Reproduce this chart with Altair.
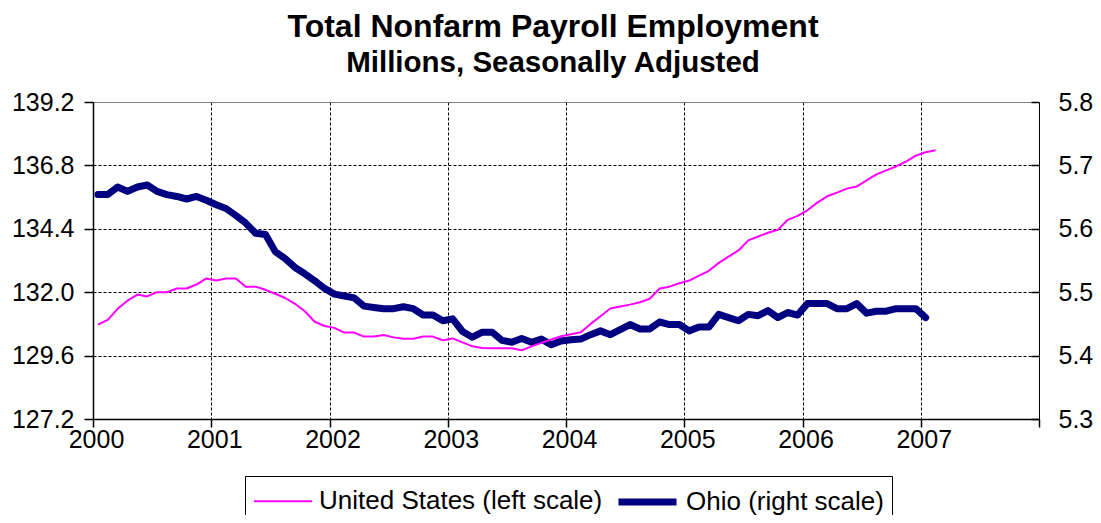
import altair as alt
import pandas as pd

# ---- data (monthly, Jan 2000 onward) ----
us_values = [
    130.77, 130.95, 131.37, 131.68, 131.91, 131.84, 132.00, 132.00, 132.14, 132.14, 132.29, 132.52,
    132.44, 132.52, 132.52, 132.21, 132.21, 132.09, 131.94, 131.78, 131.56, 131.28, 130.88, 130.72,
    130.65, 130.47, 130.47, 130.32, 130.32, 130.38, 130.29, 130.24, 130.24, 130.32, 130.32, 130.18,
    130.25, 130.10, 129.95, 129.89, 129.88, 129.88, 129.88, 129.80, 129.95, 130.08, 130.21, 130.33,
    130.41, 130.48, 130.80, 131.09, 131.38, 131.46, 131.53, 131.62, 131.75, 132.14, 132.21, 132.34,
    132.44, 132.63, 132.81, 133.11, 133.35, 133.58, 133.96, 134.11, 134.25, 134.36, 134.74, 134.89,
    135.10, 135.39, 135.63, 135.77, 135.92, 136.00, 136.23, 136.46, 136.61, 136.76, 136.94, 137.17,
    137.30, 137.37,
]
ohio_values = [
    5.654, 5.654, 5.666, 5.659, 5.666, 5.669, 5.659, 5.654, 5.651, 5.647, 5.651, 5.645,
    5.638, 5.632, 5.621, 5.609, 5.593, 5.591, 5.564, 5.553, 5.539, 5.529, 5.518, 5.506,
    5.497, 5.494, 5.491, 5.478, 5.476, 5.474, 5.474, 5.477, 5.474, 5.464, 5.464, 5.455,
    5.458, 5.438, 5.429, 5.437, 5.437, 5.424, 5.421, 5.427, 5.421, 5.426, 5.417, 5.423,
    5.425, 5.426, 5.433, 5.439, 5.433, 5.441, 5.449, 5.442, 5.442, 5.453, 5.449, 5.449,
    5.439, 5.445, 5.445, 5.465, 5.460, 5.455, 5.465, 5.463, 5.471, 5.460, 5.468, 5.464,
    5.482, 5.482, 5.482, 5.474, 5.474, 5.482, 5.467, 5.470, 5.470, 5.474, 5.474, 5.474,
    5.460,
]
series_names = ["United States (left scale)", "Ohio (right scale)"]
series_colors = ["#FF00FF", "#000080"]
series_widths = [2, 7]
x_ticks = [2000, 2001, 2002, 2003, 2004, 2005, 2006, 2007, 2008]
left_ticks = [127.2, 129.6, 132.0, 134.4, 136.8, 139.2]
right_ticks = [5.3, 5.4, 5.5, 5.6, 5.7, 5.8]
start_year = 2000

FONT = "Liberation Sans"


def month_positions(n):
    # mid-month position of each monthly observation on a year axis
    return [start_year + (i + 0.5) / 12 for i in range(n)]


us_df = pd.DataFrame({"t": month_positions(len(us_values)), "value": us_values,
                      "series": series_names[0]})
ohio_df = pd.DataFrame({"t": month_positions(len(ohio_values)), "value": ohio_values,
                        "series": series_names[1]})

x_enc = alt.X(
    "t:Q",
    scale=alt.Scale(domain=[2000, 2008], nice=False, zero=False),
    axis=alt.Axis(
        values=x_ticks, format="d", title=None,
        labelExpr="datum.value >= 2008 ? '' : datum.label",
        labelFlush=False, labelOverlap=False, labelOffset=3,
        labelFont=FONT, labelFontSize=25, labelColor="black", labelPadding=0,
        tickSize=8, tickColor="black", tickWidth=1.5,
        domainColor="black", domainWidth=1.5,
        grid=True, gridColor="black", gridWidth=1,
        gridDash={"condition": {"test": "datum.value >= 2008", "value": []}, "value": [3, 2]},
    ),
)

color_enc = alt.Color(
    "series:N",
    scale=alt.Scale(domain=series_names, range=series_colors),
    legend=alt.Legend(
        title=None, orient="none", legendX=152, legendY=374, direction="horizontal",
        fillColor="white", strokeColor="black", padding=8,
        labelFont=FONT, labelFontSize=26, labelColor="black", labelLimit=500,
        labelOffset=35, columnPadding=1,
        symbolType="M-1,0H3", symbolSize=841,
    ),
)
width_enc = alt.StrokeWidth(
    "series:N",
    scale=alt.Scale(domain=series_names, range=series_widths),
    legend=alt.Legend(title=None),
)

us_line = alt.Chart(us_df).mark_line(strokeJoin="round").encode(
    x=x_enc,
    y=alt.Y(
        "value:Q",
        scale=alt.Scale(domain=[127.2, 139.2], nice=False, zero=False),
        axis=alt.Axis(
            values=left_ticks, format=".1f", title=None, orient="left",
            labelFont=FONT, labelFontSize=25, labelColor="black", labelPadding=10,
            tickSize=9, tickColor="black", tickWidth=1.5,
            domainColor="black", domainWidth=1.5,
            grid=True, gridWidth=1,
            gridColor={"condition": {"test": "datum.value > 139", "value": "#808080"}, "value": "black"},
            gridDash={"condition": {"test": "datum.value > 139", "value": []}, "value": [3, 2]},
        ),
    ),
    color=color_enc,
    strokeWidth=width_enc,
)

ohio_line = alt.Chart(ohio_df).mark_line(strokeJoin="round", strokeCap="round").encode(
    x=x_enc,
    y=alt.Y(
        "value:Q",
        scale=alt.Scale(domain=[5.3, 5.8], nice=False, zero=False),
        axis=alt.Axis(
            values=right_ticks, format=".1f", title=None, orient="right",
            offset=-8, domain=False, grid=False,
            labelFont=FONT, labelFontSize=25, labelColor="black", labelPadding=19,
            tickSize=8, tickColor="black", tickWidth=1.5,
        ),
    ),
    color=color_enc,
    strokeWidth=width_enc,
)

chart = (
    alt.layer(ohio_line, us_line)
    .resolve_scale(y="independent")
    .properties(
        width=946,
        height=317,
        autosize=alt.AutoSizeParams(type="none"),
        padding={"left": 85, "top": 94, "right": 54, "bottom": 96},
        title=alt.TitleParams(
            text="Total Nonfarm Payroll Employment",
            subtitle="Millions, Seasonally Adjusted",
            anchor="middle", dx=-13, offset=12,
            font=FONT, fontSize=32, fontWeight="bold", color="black",
            subtitleFont=FONT, subtitleFontSize=29.5, subtitleFontWeight="bold",
            subtitleColor="black", subtitlePadding=5,
        ),
    )
    .configure_view(strokeWidth=0)
)

chart.save("out.html", embed_options={"renderer": "svg", "actions": False})
